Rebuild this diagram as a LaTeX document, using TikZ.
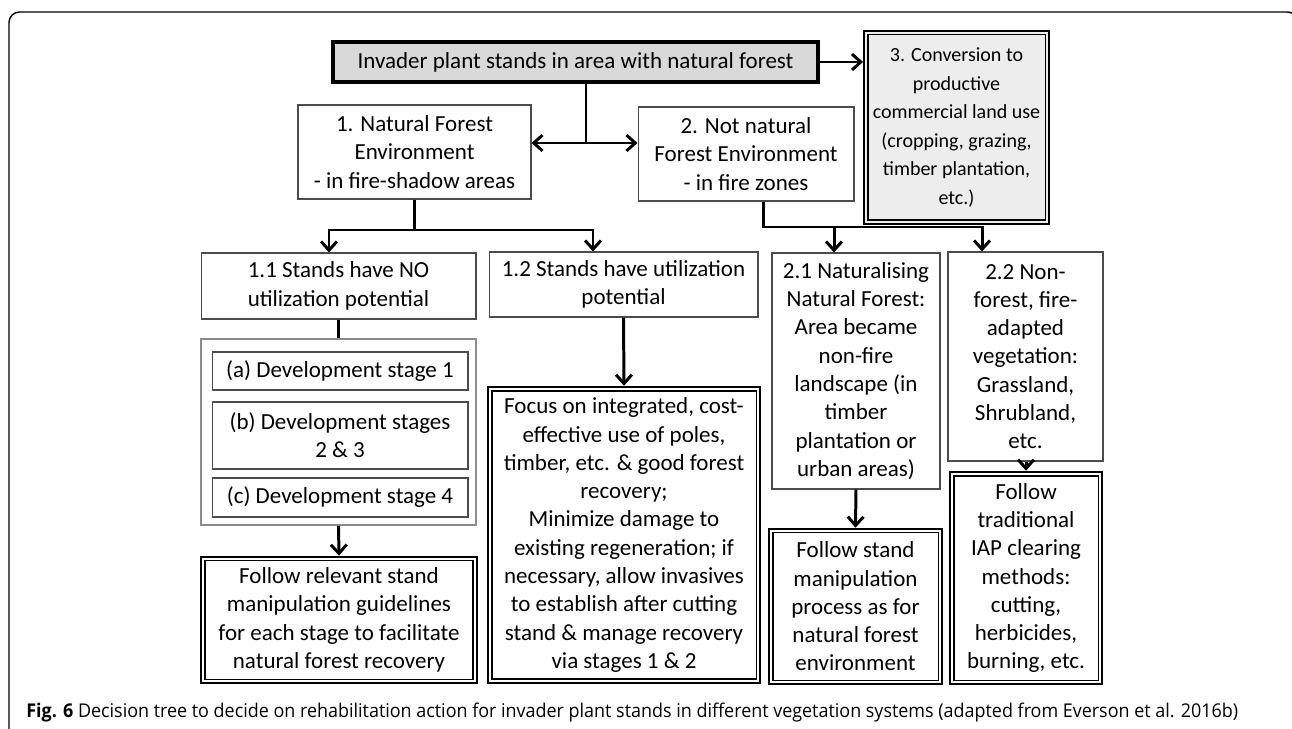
\documentclass[tikz,border=0pt]{standalone}
\usepackage{fontspec}
\usepackage{graphicx}
\setmainfont{Carlito}
\newfontfamily\capfont{Open Sans}
\usetikzlibrary{positioning,calc,arrows.meta}
\definecolor{topgray}{rgb}{0.85, 0.85, 0.85}
\definecolor{convgray}{rgb}{0.93, 0.93, 0.93}
\definecolor{edgegray}{rgb}{0.3, 0.3, 0.3}
\definecolor{groupgray}{rgb}{0.55, 0.55, 0.55}

\tikzset{
	box/.style={draw=edgegray, line width=0.6pt, align=center, inner sep=0pt, font=\fontsize{13.1}{16.1}\selectfont},
	topbox/.style={box, draw=black, line width=2.4pt, fill=topgray},
	groupbox/.style={box, draw=groupgray, line width=1pt},
	dblbox/.style={box, draw=black, line width=1.5pt,
		path picture={\draw[line width=0.7pt] ([shift={(2.2pt,2.2pt)}]path picture bounding box.south west) rectangle ([shift={(-2.2pt,-2.2pt)}]path picture bounding box.north east);}},
	convbox/.style={dblbox, line width=1.1pt, fill=convgray, font=\fontsize{11.4}{16.2}\selectfont},
	line/.style={line width=1.7pt},
	arr/.style={line, -{Straight Barb[length=5pt,width=9pt]}},
	twoarr/.style={line, {Straight Barb[length=5pt,width=9pt]}-{Straight Barb[length=5pt,width=9pt]}}
}

\begin{document}
\begin{tikzpicture}[x=0.02cm, y=-0.02cm]
	\useasboundingbox (0,0) rectangle (1292,729);
	\draw[line width=0.8pt, rounded corners=6pt] (9,760) -- (9,12) -- (1298,12) -- (1298,760);
	
	% first level
	\node[topbox, minimum width=9.7cm, minimum height=0.8cm] (top) at (575.5,62) {Invader plant stands in area with natural forest};
	\node[box, minimum width=4.66cm, minimum height=1.88cm] (nfe) at (414.5,152) {1. Natural Forest\\Environment\\- in fire-shadow areas};
	\node[box, minimum width=4.32cm, minimum height=1.88cm] (nnfe) at (746,154) {2. Not natural\\Forest Environment\\- in fire zones};
	\node[convbox, minimum width=3.7cm, minimum height=3.86cm] (conv) at (956.5,127.5) {3. Conversion to\\productive\\commercial land use\\(cropping, grazing,\\timber plantation,\\etc.)};
	
	% second level
	\node[box, minimum width=5.5cm, minimum height=1.32cm] (noutil) at (338.5,286) {1.1 Stands have NO\\utilization potential};
	\node[box, minimum width=5.38cm, minimum height=1.3cm] (util) at (623.5,284.5) {1.2 Stands have utilization\\potential};
	\node[box, minimum width=3.36cm, minimum height=4.72cm] (natur) at (856,371) {2.1 Naturalising\\Natural Forest:\\Area became\\non-fire\\landscape (in\\timber\\plantation or\\urban areas)};
	\node[box, minimum width=3.1cm, minimum height=4.18cm] (nonfor) at (1025.5,356.5) {2.2 Non-\\forest, fire-\\adapted\\vegetation:\\Grassland,\\Shrubland,\\etc.};
	
	% stages
	\node[groupbox, minimum width=5.5cm, minimum height=3.72cm] (stages) at (338.5,432) {};
	\node[box, minimum width=5.12cm, minimum height=0.76cm] (stagea) at (340,371) {(a) Development stage 1};
	\node[box, minimum width=5.12cm, minimum height=1.34cm] (stageb) at (340,435.5) {(b) Development stages\\2 \& 3};
	\node[box, minimum width=5.12cm, minimum height=0.78cm] (stagec) at (340,497.5) {(c) Development stage 4};
	
	% actions
	\node[dblbox, minimum width=5.52cm, minimum height=2.52cm] (act11) at (339,620) {Follow relevant stand\\manipulation guidelines\\for each stage to facilitate\\natural forest recovery};
	\node[dblbox, minimum width=5.44cm, minimum height=5.92cm] (act12) at (624,535) {Focus on integrated, cost-\\effective use of poles,\\timber, etc. \& good forest\\recovery;\\Minimize damage to\\existing regeneration; if\\necessary, allow invasives\\to establish after cutting\\stand \& manage recovery\\via stages 1 \& 2};
	\node[dblbox, minimum width=3.46cm, minimum height=3.1cm] (act21) at (855.5,606.5) {Follow stand\\manipulation\\process as for\\natural forest\\environment};
	\node[dblbox, minimum width=3.04cm, minimum height=4.24cm] (act22) at (1026,578) {Follow\\traditional\\IAP clearing\\methods:\\cutting,\\herbicides,\\burning, etc.};
	
	\coordinate (split0) at (586,143);
	\coordinate (split1) at (329,230);
	\coordinate (split2) at (593,230);
	\coordinate (fork0) at (763,227);
	\coordinate (fork1) at (834,227);
	\coordinate (fork2) at (982,227);
	
	\draw[line] (split0 |- top.south) -- (split0);
	\draw[twoarr] (split0 -| nfe.east) -- (split0 -| nnfe.west);
	\draw[arr] (top.east) -- (top.east -| conv.west);
	
	\draw[line] (nfe.south) -- (nfe.south |- split1);
	\draw[arr] (split2) -- (split1) -- (split1 |- noutil.north);
	\draw[arr] (split1) -- (split2) -- (split2 |- util.north);
	
	\draw[line] (fork0 |- nnfe.south) -- (fork0) -- (fork2);
	\draw[arr] (fork1) -- (fork1 |- natur.north);
	\draw[arr] (fork0) -- (fork2) -- (fork2 |- nonfor.north);
	
	\draw[line] (noutil.south) -- (stages.north);
	\draw[arr] (stages.south) -- (act11.north);
	\draw[arr] (util.south) -- (act12.north);
	\draw[arr] (natur.south) -- (act21.north);
	\draw[arr] (nonfor.south -| act22.north) -- (act22.north);
	
	\node[anchor=base west, inner sep=0pt] (caption) at (26,717) {\resizebox{24.24cm}{0.29cm}{\capfont\fontsize{9}{11}\selectfont\textbf{Fig. 6} Decision tree to decide on rehabilitation action for invader plant stands in different vegetation systems (adapted from Everson et al. 2016b)}};
\end{tikzpicture}
\end{document}
